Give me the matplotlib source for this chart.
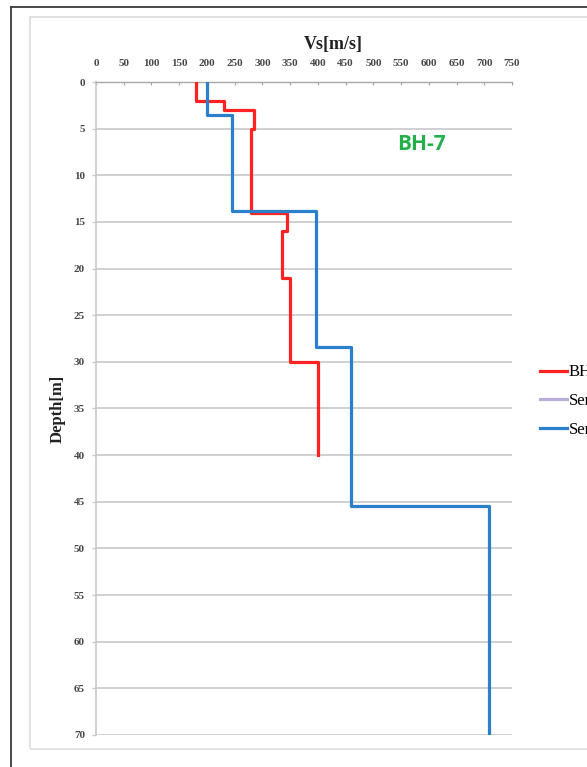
"""Vs profile for borehole BH-7"""

import numpy as np
import matplotlib
matplotlib.use("Agg")
import matplotlib.pyplot as plt
from matplotlib.lines import Line2D
from matplotlib.patches import Rectangle

# BH-7 layers: top depth [m] and Vs [m/s], last layer ends at bh_end
bh_tops = [0, 2, 3, 5, 14, 16, 21, 30]
bh_vs = [180, 230, 285, 280, 345, 335, 350, 400]
bh_end = 40

# Series2 has no points shown
s2_depth = []
s2_vs = []

# Series3 layers
s3_tops = [0, 3.5, 13.8, 28.4, 45.5]
s3_vs = [200, 245, 397, 460, 708]
s3_end = 70

series_names = ["BH-7", "Series2", "Series3"]
x_ticks = list(range(0, 751, 50))
y_ticks = list(range(0, 71, 5))


def step_profile(tops, vs, end):
    """Turn layer tops/velocities into polyline points."""
    bottoms = list(tops[1:]) + [end]
    depth = np.ravel(np.column_stack([tops, bottoms]))
    vel = np.repeat(vs, 2)
    return vel, depth


W, H = 587, 767
fig = plt.figure(figsize=(W / 100, H / 100), dpi=100)
fig.patch.set_facecolor("white")

# outer frame (dark) and chart area border (light)
fig.add_artist(Line2D([10.5 / W, 10.5 / W], [0, 1 - 6.5 / H], color="#3a3a3a", lw=1.3))
fig.add_artist(Line2D([10.5 / W, 1], [1 - 6.5 / H, 1 - 6.5 / H], color="#3a3a3a", lw=1.3))
fig.add_artist(Rectangle((30 / W, 1 - 749 / H), 1.2, (749 - 17) / H,
                         transform=fig.transFigure, fill=False,
                         edgecolor="#dcdcdc", lw=1.2))

ax = fig.add_axes([96 / W, 1 - 735 / H, (512 - 96) / W, (735 - 82) / H])

x, y = step_profile(bh_tops, bh_vs, bh_end)
ax.plot(x, y, color="#FF2222", lw=2.3, label=series_names[0], zorder=3)
ax.plot(s2_vs, s2_depth, color="#B9AED6", lw=2.3, label=series_names[1], zorder=3)
x, y = step_profile(s3_tops, s3_vs, s3_end)
ax.plot(x, y, color="#2B7FCB", lw=2.3, label=series_names[2], zorder=3)

ax.set_xlim(0, 750)
ax.set_ylim(70, 0)
ax.set_xticks(x_ticks)
ax.set_yticks(y_ticks)
ax.xaxis.tick_top()
ax.xaxis.set_label_position("top")

tick_font = dict(family="Liberation Serif", size=8, weight="bold")
ax.set_xticklabels([str(t) for t in x_ticks], **tick_font, color="#484848")
ax.set_yticklabels([str(t) for t in y_ticks], **tick_font, color="#484848")
ax.tick_params(axis="x", direction="in", length=2, width=0.8, color="#a0a0a0", pad=10)
ax.tick_params(axis="y", direction="out", length=3, width=1.0, color="#c8c8c8", pad=5)

ax.grid(axis="y", color="#c8c8c8", lw=1.2)
ax.set_axisbelow(True)
for side in ("right", "bottom"):
    ax.spines[side].set_visible(False)
ax.spines["left"].set_color("#c8c8c8")
ax.spines["left"].set_linewidth(1.2)
ax.spines["top"].set_color("#a8a8a8")
ax.spines["top"].set_linewidth(1.0)

ax.set_xlabel("Vs[m/s]", family="Liberation Serif", size=13, weight="bold",
              color="#222222")
ax.xaxis.set_label_coords(0.57, 1.05)
ax.set_ylabel("Depth[m]", family="Liberation Serif", size=12, weight="bold",
              color="#222222")
ax.yaxis.set_label_coords(-0.072, 0.5)

ax.text(586, 6.7, "BH-7", color="#22B04B", size=15, weight="bold",
        family="Open Sans", ha="center", va="center")

# legend sits at the right edge, its labels run past the figure border
fig.legend(loc="center left", bbox_to_anchor=(540 / W, 1 - 401 / H),
           frameon=False, handlelength=1.6, handletextpad=0.12,
           labelspacing=0.75, borderpad=0, borderaxespad=0,
           prop=dict(family="Liberation Serif", size=12))

fig.savefig("out.png", dpi=100)
plt.close(fig)
